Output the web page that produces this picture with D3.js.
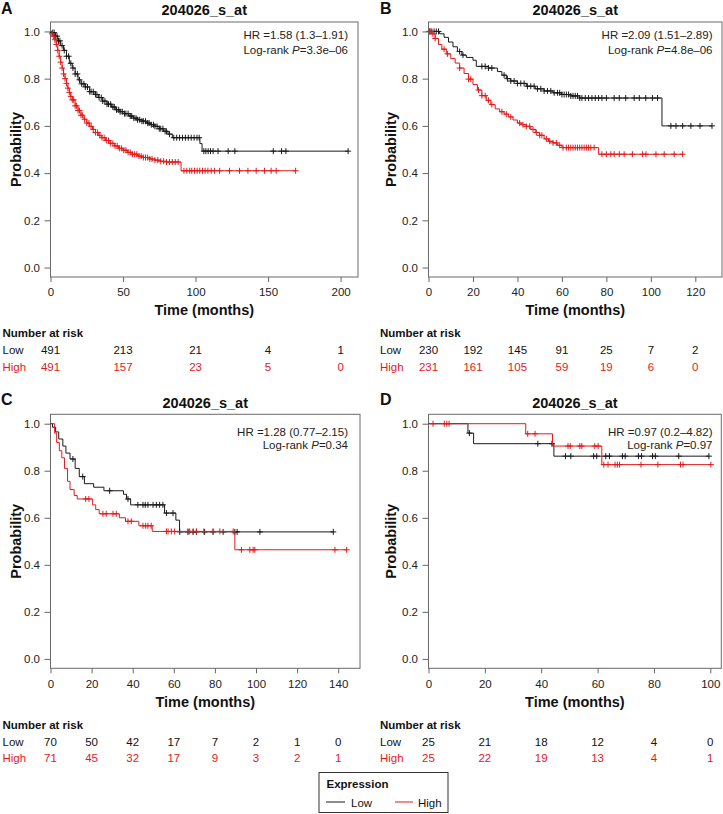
<!DOCTYPE html>
<html><head><meta charset="utf-8">
<script src="https://cdn.jsdelivr.net/npm/d3@7"></script>
<style>
body{margin:0;background:#fff;}
svg{display:block;font-family:Arial,"Liberation Sans",sans-serif;}
</style></head><body>
<svg id="c" width="723" height="814"></svg>
<script>
// ---------- DATA ----------
const panelLetters = ["A","B","C","D"];
const panelTitle = "204026_s_at";
const hrTexts = ["HR =1.58 (1.3\u20131.91)","HR =2.09 (1.51\u20132.89)","HR =1.28 (0.77\u20132.15)","HR =0.97 (0.2\u20134.82)"];
const pTexts = ["=3.3e\u201306","=4.8e\u201306","=0.34","=0.97"];
const xMaxes = [212, 132, 150.6, 103.9];
const xTicksA = [0,50,100,150,200];
const xTicksB = [0,20,40,60,80,100,120];
const xTicksC = [0,20,40,60,80,100,120,140];
const xTicksD = [0,20,40,60,80,100];
const yTicks = [0,0.2,0.4,0.6,0.8,1.0];

const riskLowA = [491,213,21,4,1];
const riskHighA = [491,157,23,5,0];
const riskLowB = [230,192,145,91,25,7,2];
const riskHighB = [231,161,105,59,19,6,0];
const riskLowC = [70,50,42,17,7,2,1,0];
const riskHighC = [71,45,32,17,9,3,2,1];
const riskLowD = [25,21,18,12,4,0];
const riskHighD = [25,22,19,13,4,1];

// Kaplan-Meier steps: [time, survival]
const aLowSteps = [[0,1],[1,0.995],[3,0.98],[5,0.96],[7,0.94],[9,0.92],[11,0.895],[13,0.865],[15,0.845],[17,0.82],[19,0.795],[21,0.778],[24,0.765],[27,0.745],[30,0.733],[33,0.72],[36,0.705],[39,0.692],[42,0.68],[45,0.668],[48,0.66],[51,0.652],[54,0.642],[57,0.633],[60,0.626],[63,0.62],[66,0.612],[69,0.605],[72,0.598],[75,0.588],[78,0.577],[81,0.565],[84,0.55],[103,0.525],[104.5,0.493]];
const aLowCens = [1.5,2.5,3.5,4.5,5.5,6.5,8,9.5,11,12.5,14,15.5,17,18.5,20,21.5,23,24,25.5,27,28,29.5,31,32,33.5,35,36,37.5,39,40,41.5,43,44,45.5,47,48,49.5,51,52,53.5,55,56,57.5,59,60,61.5,63,64,65.5,67,68,69.5,71,72,73.5,75,76,77.5,79,80,82,85,87,89,91,93,95,97,99,101,102.5,105.7,107.1,108.7,110.3,112.1,115.5,122.5,127.1,153.6,159.3,162.3,205.2];
const aHighSteps = [[0,1],[1,0.99],[2,0.98],[3,0.965],[4,0.945],[5,0.92],[6,0.895],[7,0.87],[8,0.845],[9,0.82],[10,0.8],[11,0.78],[12,0.76],[13,0.742],[14,0.725],[15,0.71],[17,0.685],[19,0.665],[21,0.645],[23,0.628],[25,0.612],[27,0.598],[29,0.585],[31,0.572],[33,0.56],[35,0.55],[38,0.538],[41,0.526],[44,0.515],[47,0.505],[50,0.497],[53,0.488],[56,0.48],[60,0.472],[64,0.466],[68,0.46],[72,0.455],[76,0.45],[80,0.447],[90,0.41]];
const aHighCens = [1,2,3,4,5,6,7,8,9,10,11,12,13,14,15,16,17,18,19,20,21,22,23.5,25,26.5,28,29.5,31,32.5,34,35.5,37,38.5,40,41.5,43,44.5,46,47.5,49,50.5,52,53.5,55,56.5,58,59.5,61,62.5,64,65.5,67,68.5,70,72,74,76,78,80,82,84,86,88,92,94,96,97.4,99.3,101.1,102.9,104.8,106.6,108.5,110.8,113.1,116.6,123.4,130.3,136.1,141.8,147.6,152.1,155.6,169];

const bLowSteps = [[0,1],[5,0.99],[7,0.975],[9,0.955],[11,0.935],[13,0.915],[15,0.9],[17,0.89],[20,0.878],[21.5,0.852],[27,0.845],[31,0.83],[33,0.815],[35,0.8],[37,0.79],[40,0.78],[44,0.768],[48,0.757],[52,0.748],[56,0.74],[60,0.733],[64,0.727],[68,0.718],[105,0.6]];
const bLowCens = [0.5,1.5,2.5,3.5,4.5,14,15.5,24,25.5,27,28.5,34,35.5,37,38.5,40,41.5,43,44.5,46,47.5,49,50.5,52,53.5,55,56.5,58,59,60,61,62,63,64,65,66,67,68,69,70.5,72,73.5,75,76.5,78,80,83.5,85.8,88.7,92.5,94.8,97.7,100.7,103,109,111.3,114.3,118,122.1,127.5];
const bHighSteps = [[0,1],[1.5,0.99],[3,0.97],[4.5,0.945],[6,0.925],[8,0.905],[10,0.885],[12,0.866],[14,0.845],[16,0.822],[18,0.798],[20,0.775],[22,0.752],[24,0.728],[26,0.708],[28,0.69],[30,0.672],[32,0.66],[34,0.65],[36,0.638],[38,0.625],[40,0.612],[42,0.605],[44,0.598],[46,0.585],[48,0.572],[50,0.56],[52,0.545],[54,0.535],[56,0.528],[58,0.518],[60,0.508],[76.5,0.48]];
const bHighCens = [0.5,1,2,3,7,8.5,14,18,19,22.5,24,25.5,27,28.5,33,35,37,41,42.5,44,45.5,47,48.5,50,51,53,54.5,56,57.5,59,60.5,62,63,64,65,66,67,68,69,70,71,72,73,74.5,78,80,82,83.5,85.8,88,91.7,96.3,97.8,102.3,106,110.5,114.3];

const cLowSteps = [[0,1],[1,0.985],[2.5,0.965],[4,0.935],[6,0.905],[7.5,0.875],[9.5,0.85],[12,0.81],[14,0.775],[16.5,0.745],[21,0.73],[26,0.715],[35.5,0.7],[37,0.68],[39,0.655],[55.5,0.62],[61,0.59],[62.8,0.54]];
const cLowCens = [10.9,15.7,28.8,37.7,42.5,45,46.1,47.4,49.9,51.5,53.1,54.7,56.4,59.6,62.9,66.9,69.4,71,75,79.1,84,89.7,90.8,101.9,137.6];
const cHighSteps = [[0,1],[2,0.96],[3,0.92],[4.3,0.885],[5.5,0.855],[6.8,0.81],[8.3,0.755],[9.5,0.72],[11.5,0.695],[13,0.68],[20.5,0.655],[22,0.635],[23.7,0.617],[33.5,0.6],[36.5,0.585],[43,0.566],[49.5,0.542],[89.7,0.464]];
const cHighCens = [17.1,18.7,25.5,27.1,30.4,32,37.7,39.3,45,46.3,47.4,49,56.4,57.2,58.8,60.4,66.9,67.7,69.4,71,74.6,79.1,82.4,88.9,92.9,97,98.6,99.4,138.4,144.1];

const dLowSteps = [[0,1],[14,0.96],[16,0.915],[44.5,0.862]];
const dLowCens = [14.5,38.8,43.8,48.6,50.5,58.6,59.7,62.9,64.2,68.8,69.8,74.5,75.6,79.5,80.5,88.8,99.5];
const dHighSteps = [[0,1],[34.5,0.957],[44,0.905],[61.5,0.826]];
const dHighCens = [1.6,5.6,6.5,7.3,35.2,37.8,49.5,50.3,53.7,54.4,59,60.2,62.2,63.7,66.2,67,67.8,75.4,81.4,89.4,90.3,100.2];

// ---------- LAYOUT ----------
const RED = "#e31a1c", BLK = "#1a1a1a";
const rows = [
  {letterY:14, titleY:15, top:22, bot:277, hrY:[39,53.5], timeY:315, narY:336.5, lowY:354, highY:370.5, tickPad:6.3},
  {letterY:405, titleY:407.5, top:414.3, bot:668.3, hrY:[436,448.5], timeY:707, narY:729, lowY:745.5, highY:762, tickPad:7}
];
const cols = [
  {letterX:1, left:50.5, ylabX:20.5, riskX:2.5, hrX:348},
  {letterX:380, left:428.5, ylabX:396, riskX:380, hrX:712.5}
];
const rights = [358, 722, 360, 721.3];

const panels = [
  {row:0,col:0,xt:xTicksA,low:aLowSteps,lowC:aLowCens,high:aHighSteps,highC:aHighCens,rl:riskLowA,rh:riskHighA},
  {row:0,col:1,xt:xTicksB,low:bLowSteps,lowC:bLowCens,high:bHighSteps,highC:bHighCens,rl:riskLowB,rh:riskHighB},
  {row:1,col:0,xt:xTicksC,low:cLowSteps,lowC:cLowCens,high:cHighSteps,highC:cHighCens,rl:riskLowC,rh:riskHighC},
  {row:1,col:1,xt:xTicksD,low:dLowSteps,lowC:dLowCens,high:dHighSteps,highC:dHighCens,rl:riskLowD,rh:riskHighD}
];

const svg = d3.select("#c");

function sAt(steps, t){
  let s = steps[0][1];
  for (const p of steps){ if (p[0] <= t + 1e-9) s = p[1]; }
  return s;
}

panels.forEach((p,i)=>{
  const R = rows[p.row], C = cols[p.col];
  const right = rights[i];
  const x = d3.scaleLinear().domain([0, xMaxes[i]]).range([C.left, right]);
  const y = d3.scaleLinear().domain([-0.04, 1.04]).range([R.bot, R.top]);
  const g = svg.append("g");

  g.append("text").attr("x",C.letterX).attr("y",R.letterY)
    .attr("font-size",16).attr("font-weight","bold").attr("fill","#111").text(panelLetters[i]);
  g.append("text").attr("x",(C.left+right)/2).attr("y",R.titleY).attr("text-anchor","middle")
    .attr("font-size",14.5).attr("font-weight","bold").attr("fill","#111").text(panelTitle);

  const yAxis = d3.axisLeft(y).tickValues(yTicks).tickFormat(d3.format(".1f")).tickSize(6).tickPadding(4.5);
  const ya = g.append("g").attr("transform",`translate(${C.left},0)`).call(yAxis);
  const xAxis = d3.axisBottom(x).tickValues(p.xt).tickFormat(d3.format("d")).tickSize(5).tickPadding(R.tickPad);
  const xa = g.append("g").attr("transform",`translate(0,${R.bot})`).call(xAxis);
  [ya,xa].forEach(a=>{
    a.select(".domain").remove();
    a.selectAll(".tick line").attr("stroke","#666");
    a.selectAll(".tick text").attr("fill","#222").attr("font-size",11.5).attr("font-family","Arial, 'Liberation Sans', sans-serif");
  });

  g.append("rect").attr("x",C.left).attr("y",R.top).attr("width",right-C.left).attr("height",R.bot-R.top)
    .attr("fill","none").attr("stroke","#6a6a6a").attr("stroke-width",1);

  g.append("text").attr("transform",`translate(${C.ylabX},${(R.top+R.bot)/2}) rotate(-90)`)
    .attr("text-anchor","middle").attr("font-size",14.5).attr("font-weight","bold").attr("fill","#111").text("Probability");
  g.append("text").attr("x",(C.left+right)/2).attr("y",R.timeY).attr("text-anchor","middle")
    .attr("font-size",14.5).attr("font-weight","bold").attr("fill","#111").text("Time (months)");

  g.append("text").attr("x",C.hrX).attr("y",R.hrY[0]).attr("text-anchor","end")
    .attr("font-size",11.5).attr("fill","#222").text(hrTexts[i]);
  const lt = g.append("text").attr("x",C.hrX).attr("y",R.hrY[1]).attr("text-anchor","end")
    .attr("font-size",11.5).attr("fill","#222");
  lt.append("tspan").text("Log-rank ");
  lt.append("tspan").attr("font-style","italic").text("P");
  lt.append("tspan").text(pTexts[i]);

  const line = d3.line().x(d=>x(d[0])).y(d=>y(d[1])).curve(d3.curveStepAfter);
  [[p.low,p.lowC,BLK],[p.high,p.highC,RED]].forEach(([steps,cens,col])=>{
    const tEnd = Math.max(d3.max(cens), steps[steps.length-1][0]);
    const pts = steps.concat([[tEnd, steps[steps.length-1][1]]]);
    g.append("path").attr("d",line(pts)).attr("fill","none").attr("stroke",col).attr("stroke-width",1);
    g.append("g").selectAll("path").data(cens).join("path")
      .attr("d",t=>{const cx=x(t), cy=y(sAt(steps,t)); return `M${cx-3},${cy}H${cx+3}M${cx},${cy-3}V${cy+3}`;})
      .attr("stroke",col).attr("stroke-width",1).attr("fill","none");
  });

  g.append("text").attr("x",C.riskX).attr("y",R.narY).attr("font-size",11.5).attr("font-weight","bold").attr("fill","#111").text("Number at risk");
  g.append("text").attr("x",C.riskX).attr("y",R.lowY).attr("font-size",11.5).attr("fill","#111").text("Low");
  g.append("text").attr("x",C.riskX).attr("y",R.highY).attr("font-size",11.5).attr("fill",RED).text("High");
  p.xt.forEach((t,k)=>{
    g.append("text").attr("x",x(t)).attr("y",R.lowY).attr("text-anchor","middle").attr("font-size",11.5).attr("fill","#111").text(p.rl[k]);
    g.append("text").attr("x",x(t)).attr("y",R.highY).attr("text-anchor","middle").attr("font-size",11.5).attr("fill",RED).text(p.rh[k]);
  });
});

const lg = svg.append("g");
lg.append("rect").attr("x",319).attr("y",772.5).attr("width",129).attr("height",40).attr("fill","#fff").attr("stroke","#333").attr("stroke-width",1);
lg.append("text").attr("x",326.5).attr("y",788).attr("font-size",11.5).attr("font-weight","bold").attr("fill","#111").text("Expression");
lg.append("line").attr("x1",326).attr("x2",345).attr("y1",802).attr("y2",802).attr("stroke",BLK).attr("stroke-width",1);
lg.append("text").attr("x",351).attr("y",806.5).attr("font-size",11.5).attr("fill","#111").text("Low");
lg.append("line").attr("x1",395).attr("x2",413).attr("y1",802).attr("y2",802).attr("stroke",RED).attr("stroke-width",1);
lg.append("text").attr("x",418).attr("y",806.5).attr("font-size",11.5).attr("fill","#111").text("High");
</script>
</body></html>
